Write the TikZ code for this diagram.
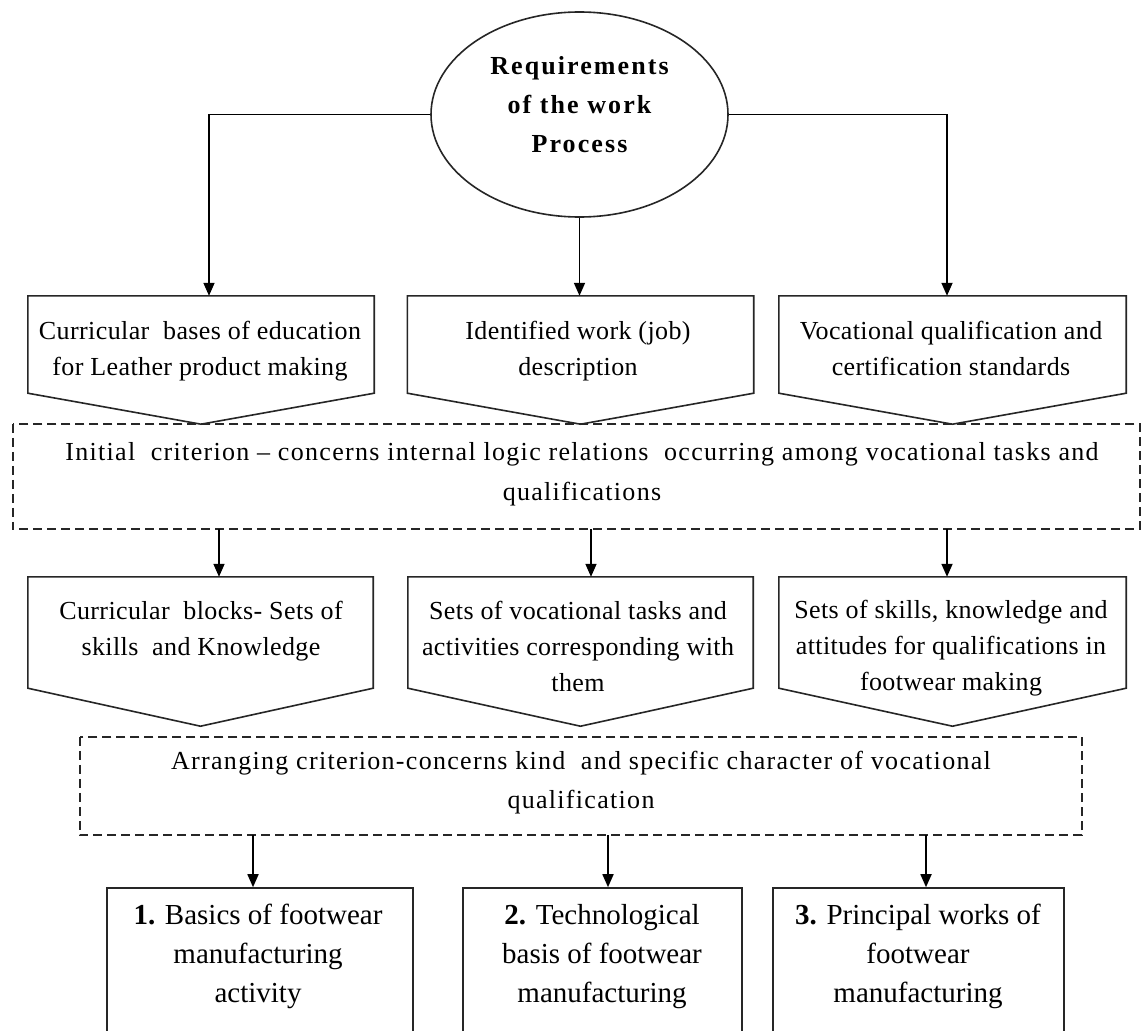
\documentclass[tikz,border=0pt]{standalone}
\usepackage{fontspec}
\setmainfont[LetterSpace=1.5]{Liberation Serif}
\newfontfamily\reqfont[LetterSpace=8.0]{Liberation Serif}
\newfontfamily\critfont[LetterSpace=5.0]{Liberation Serif}
\newfontfamily\numfont{Liberation Serif}
\usetikzlibrary{arrows.meta,shapes.geometric,calc}

\begin{document}
\begin{tikzpicture}[x=1pt,y=-1pt,
  boxline/.style={draw=black!85, line width=1.6pt, line join=miter},
  dashbox/.style={draw=black!85, line width=1.7pt, dash pattern=on 9pt off 5pt},
  arr/.style={draw=black, line width=1.7pt, -{Triangle[length=13pt,width=11pt]}},
  shapebox/.style={draw=none, inner sep=0pt, minimum width=#1},
  txt/.style={align=center, inner sep=0pt, font=\fontsize{26}{36}\selectfont},
  crittxt/.style={align=center, inner sep=0pt, font=\critfont\fontsize{26}{40}\selectfont},
  bigtxt/.style={align=center, inner sep=0pt, font=\numfont\fontsize{29}{39}\selectfont},
]
\useasboundingbox (0,0) rectangle (1142,1030);
\clip (0,0) rectangle (1142,1030);
\fill[white] (0,0) rectangle (1142,1030);

% ---- top ellipse ----
\node[ellipse, draw=black!85, line width=1.6pt, minimum width=297pt, minimum height=205pt, inner sep=0pt] (req) at (579.5,114.5) {};
\node[align=center, inner sep=0pt, font=\reqfont\bfseries\fontsize{26}{39}\selectfont] (reqtext) at (579.5,106) {\strut Requirements\\of the work\\Process\strut};

% ---- pentagon outline drawn round a named node ----
\newcommand\pentagon[2]{% name, tip depth
  \draw[boxline] (#1.south west) -- (#1.north west) -- (#1.north east) -- (#1.south east)
    -- ($(#1.south)+(0,#2)$) -- cycle;}

% ---- first row ----
\node[shapebox=346pt, minimum height=97pt] (b1) at (201,344.5) {};
\node[shapebox=346pt, minimum height=97pt] (b2) at (580.5,344.5) {};
\node[shapebox=347pt, minimum height=97pt] (b3) at (952.5,344.5) {};
\pentagon{b1}{31}
\pentagon{b2}{31}
\pentagon{b3}{31}
\node[txt] (t1) at (200,350) {\strut Curricular\ \ bases of education\\for Leather product making\strut};
\node[txt] (t2) at (578,350) {\strut Identified work (job)\\description\strut};
\node[txt] (t3) at (951,350) {\strut Vocational qualification and\\certification standards\strut};

% ---- first criterion ----
\node[shapebox=1127pt, minimum height=105pt] (crit1) at (576.5,476.5) {};
\draw[dashbox] (crit1.north west) rectangle (crit1.south east);
\node[crittxt] (crit1text) at (582,472) {\strut Initial\ \ criterion – concerns internal logic relations\ \ occurring among vocational tasks and\\qualifications\strut};

% ---- second row ----
\node[shapebox=345pt, minimum height=111pt] (c1) at (200.5,632.5) {};
\node[shapebox=345pt, minimum height=111pt] (c2) at (580.5,632.5) {};
\node[shapebox=347pt, minimum height=111pt] (c3) at (952.5,632.5) {};
\pentagon{c1}{38}
\pentagon{c2}{38}
\pentagon{c3}{38}
\node[txt] (u1) at (201,630) {\strut Curricular\ \ blocks- Sets of\\skills\ \ and Knowledge\strut};
\node[txt] (u2) at (578,648) {\strut Sets of vocational tasks and\\activities corresponding with\\them\strut};
\node[txt] (u3) at (951,647) {\strut Sets of skills, knowledge and\\attitudes for qualifications in\\footwear making\strut};

% ---- second criterion ----
\node[shapebox=1002pt, minimum height=98pt] (crit2) at (581,786) {};
\draw[dashbox] (crit2.north west) rectangle (crit2.south east);
\node[crittxt, font=\critfont\fontsize{26}{39}\selectfont] (crit2text) at (581,781.5) {\strut Arranging criterion-concerns kind\ \ and specific character of vocational\\qualification\strut};

% ---- bottom boxes ----
\node[draw=black!85, line width=1.6pt, minimum width=306pt, minimum height=160pt, inner sep=0pt] (d1) at (260,968) {};
\node[draw=black!85, line width=1.6pt, minimum width=279pt, minimum height=160pt, inner sep=0pt] (d2) at (602.5,968) {};
\node[draw=black!85, line width=1.6pt, minimum width=291pt, minimum height=160pt, inner sep=0pt] (d3) at (918.5,968) {};
\node[bigtxt] (v1) at (258,956) {\strut\textbf{1.} Basics of footwear\\manufacturing\\activity\strut};
\node[bigtxt] (v2) at (602,956) {\strut\textbf{2.} Technological\\basis of footwear\\manufacturing\strut};
\node[bigtxt] (v3) at (918,956) {\strut\textbf{3.} Principal works of\\footwear\\manufacturing\strut};

% ---- connectors ----
\draw[arr] (req.west) -| ([xshift=8pt]b1.north);
\draw[arr] (req.south) -- (req.south |- b2.north);
\draw[arr] (req.east) -| ([xshift=-5.5pt]b3.north);

\draw[arr] (crit1.south -| 219,0) -- (c1.north -| 219,0);
\draw[arr] (crit1.south -| 591,0) -- (c2.north -| 591,0);
\draw[arr] (crit1.south -| 947,0) -- (c3.north -| 947,0);

\draw[arr] (crit2.south -| 253,0) -- (d1.north -| 253,0);
\draw[arr] (crit2.south -| 608,0) -- (d2.north -| 608,0);
\draw[arr] (crit2.south -| 926,0) -- (d3.north -| 926,0);
\end{tikzpicture}
\end{document}
